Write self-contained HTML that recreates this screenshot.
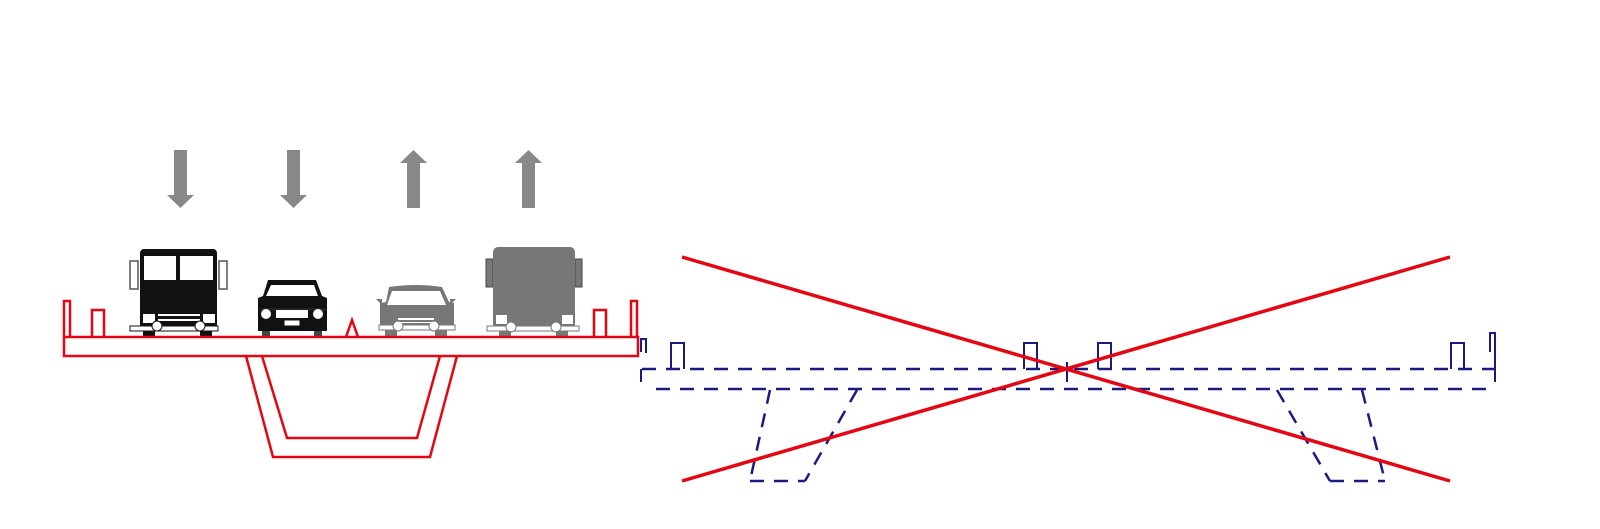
<!DOCTYPE html>
<html><head><style>body{margin:0;background:#fff}svg{display:block}</style></head><body>
<svg width="1600" height="529" viewBox="0 0 1600 529" xmlns="http://www.w3.org/2000/svg">
<rect width="1600" height="529" fill="#fff"/>
<!-- arrows -->
<g fill="#888">
<polygon points="174,150 187,150 187,195 194,195 180.5,208 167,195 174,195"/>
<polygon points="287,150 300,150 300,195 307,195 293.5,208 280,195 287,195"/>
<polygon points="407,208 420,208 420,163 427,163 413.5,150 400,163 407,163"/>
<polygon points="522,208 535,208 535,163 542,163 528.5,150 515,163 522,163"/>
</g>
<!-- black truck -->
<g>
<rect x="130" y="261" width="8" height="28" fill="#fff" stroke="#555" stroke-width="1.5"/>
<rect x="219" y="261" width="8" height="28" fill="#fff" stroke="#555" stroke-width="1.5"/>
<rect x="140" y="249" width="77" height="82" rx="4" fill="#111"/>
<rect x="144" y="256" width="32" height="24" fill="#fff"/>
<rect x="180" y="256" width="33" height="24" fill="#fff"/>
<rect x="143" y="314" width="12" height="9" fill="#fff"/>
<rect x="203" y="314" width="12" height="9" fill="#fff"/>
<rect x="158" y="314" width="42" height="2" fill="#fff"/><rect x="158" y="319" width="42" height="2" fill="#fff"/>
<rect x="130" y="326" width="88" height="5" fill="#fff" stroke="#111"/>
<circle cx="157" cy="326" r="5" fill="#fff" stroke="#111"/><circle cx="200" cy="326" r="5" fill="#fff" stroke="#111"/>
<rect x="143" y="331" width="12" height="6" fill="#111"/><rect x="200" y="331" width="12" height="6" fill="#111"/>
</g>
<!-- black car -->
<g>
<path d="M268,280 L316,280 L322,296 L327,298 L327,331 L258,331 L258,298 L263,296 Z" fill="#111"/>
<path d="M271,285 L314,285 L318,296 L266,296 Z" fill="#fff"/>
<rect x="260" y="308" width="66" height="3" fill="#222"/>
<circle cx="244" cy="0" r="0"/>
<circle cx="266" cy="314" r="5" fill="#fff"/><circle cx="318" cy="314" r="5" fill="#fff"/>
<rect x="276" y="310" width="32" height="8" fill="#fff"/>
<rect x="284" y="320" width="16" height="6" fill="#fff" stroke="#111"/>
<rect x="262" y="331" width="8" height="6" fill="#444"/><rect x="314" y="331" width="8" height="6" fill="#444"/>
</g>
<!-- gray car -->
<g fill="#777">
<path d="M389,287 Q416,283 442,287 L449,302 L454,303 L454,330 L380,330 L380,303 L386,302 Z"/>
<path d="M392,291 L440,291 L446,305 L387,305 Z" fill="#fff"/>
<rect x="379" y="325" width="76" height="5" fill="#fff" stroke="#777"/>
<circle cx="398" cy="326" r="5" fill="#fff" stroke="#777"/><circle cx="434" cy="326" r="5" fill="#fff" stroke="#777"/>
<rect x="398" y="318" width="36" height="2" fill="#fff"/><rect x="398" y="322" width="36" height="1" fill="#fff"/>
<rect x="385" y="330" width="12" height="7"/><rect x="435" y="330" width="12" height="7"/>
<path d="M376,299 L382,299 L382,305 Z"/><path d="M456,299 L450,299 L450,305 Z"/>
</g>
<!-- gray truck -->
<g fill="#777">
<rect x="486" y="259" width="7" height="28" fill="#777" stroke="#444"/>
<rect x="575" y="259" width="7" height="28" fill="#777" stroke="#444"/>
<rect x="493" y="247" width="82" height="82" rx="5"/>
<rect x="496" y="315" width="11" height="9" fill="#fff"/><rect x="562" y="315" width="11" height="9" fill="#fff"/>
<rect x="487" y="326" width="92" height="5" fill="#fff" stroke="#777"/>
<circle cx="511" cy="327" r="5" fill="#fff" stroke="#777"/><circle cx="556" cy="327" r="5" fill="#fff" stroke="#777"/>
<rect x="499" y="331" width="12" height="6"/><rect x="556" y="331" width="12" height="6"/>
</g>
<!-- red bridge -->
<g fill="none" stroke="#e30613" stroke-width="2.5">
<rect x="64" y="337" width="574" height="19"/>
<polyline points="64,337 64,301 70,301 70,337"/>
<polyline points="92,337 92,310 104,310 104,337"/>
<polyline points="594,337 594,310 606,310 606,337"/>
<polyline points="631,337 631,301 637,301 637,337"/>
<polyline points="346,337 352,320 358,337"/>
<polyline points="246,356 273,457 430,457 457,356"/>
<polyline points="262,356 287,438 417,438 440,356"/>
</g>
<!-- blue dashed -->
<g fill="none" stroke="#1a1a80" stroke-width="2.5" stroke-dasharray="14,10">
<line x1="642" y1="369" x2="1495" y2="369"/>
<line x1="656" y1="389" x2="1495" y2="389"/>
<line x1="770" y1="390" x2="750" y2="481"/>
<line x1="857" y1="390" x2="805" y2="481"/>
<line x1="750" y1="481" x2="805" y2="481"/>
<line x1="1277" y1="390" x2="1330" y2="481"/>
<line x1="1362" y1="390" x2="1385" y2="481"/>
<line x1="1330" y1="481" x2="1385" y2="481"/>
</g>
<g fill="none" stroke="#1a1a80" stroke-width="2">
<line x1="641" y1="369" x2="641" y2="382"/>
<polyline points="641,352 641,339 646,339 646,353"/>
<polyline points="671,369 671,343 684,343 684,369"/>
<polyline points="1024,369 1024,343 1037,343 1037,369"/>
<polyline points="1098,369 1098,343 1111,343 1111,369"/>
<polyline points="1451,369 1451,343 1464,343 1464,369"/>
<polyline points="1490,352 1490,333 1495,333 1495,382"/>
<line x1="1067" y1="362" x2="1067" y2="382"/>
</g>
<!-- red X -->
<g stroke="#e30613" stroke-width="3.5">
<line x1="682" y1="257" x2="1450" y2="481"/>
<line x1="682" y1="481" x2="1450" y2="257"/>
</g>
</svg>
</body></html>
